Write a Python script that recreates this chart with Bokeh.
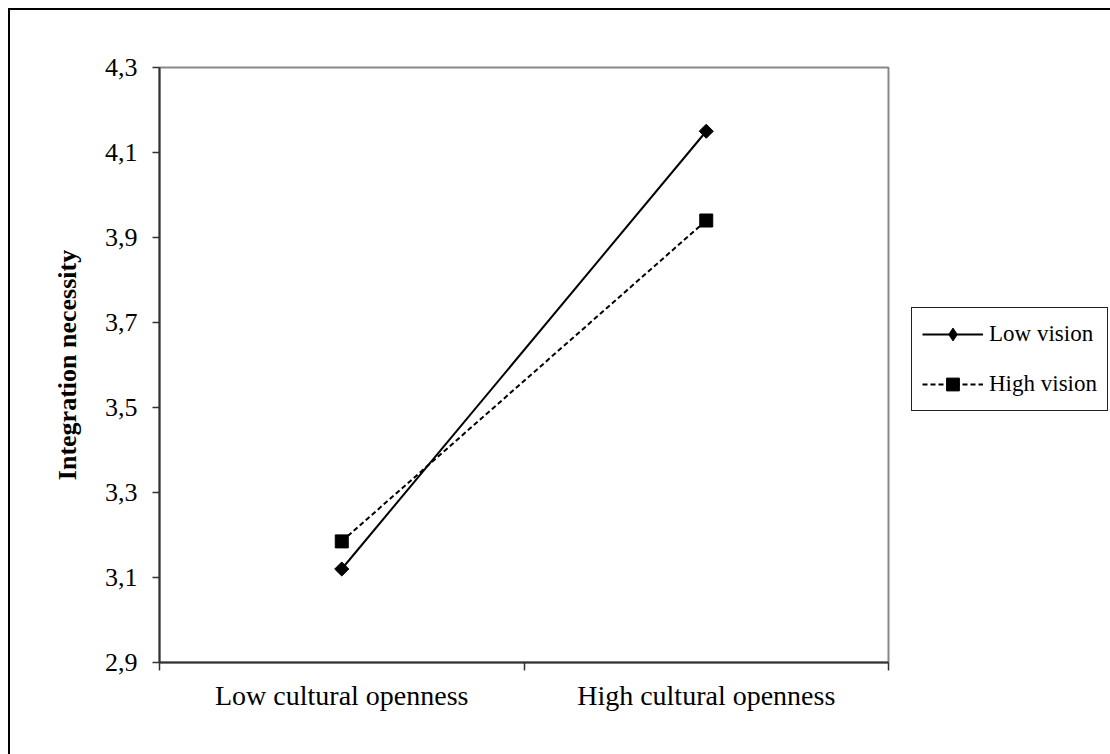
import numpy as np
from bokeh.plotting import figure
from bokeh.models import Range1d, FixedTicker, Legend, LegendItem
from bokeh.embed import file_html
from bokeh.resources import INLINE

# ---- data ----
categories = ["Low cultural openness", "High cultural openness"]
series_names = ["Low vision", "High vision"]
low_vision = [3.12, 4.15]
high_vision = [3.185, 3.94]
y_ticks = [2.9, 3.1, 3.3, 3.5, 3.7, 3.9, 4.1, 4.3]
y_tick_labels = ["2,9", "3,1", "3,3", "3,5", "3,7", "3,9", "4,1", "4,3"]
y_title = "Integration necessity"

xpos = [i + 0.5 for i in range(len(categories))]
edges = [float(i) for i in range(len(categories) + 1)]

FONT = "Liberation Serif"

p = figure(frame_width=729, frame_height=595,
           x_range=Range1d(0, len(categories)), y_range=Range1d(y_ticks[0], y_ticks[-1]),
           output_backend="svg", toolbar_location=None,
           min_border_left=151, min_border_right=0,
           min_border_top=59, min_border_bottom=92)

p.border_fill_color = None
p.background_fill_color = "white"
p.styles = {"margin": "8px 0 0 8px", "box-shadow": "inset 2px 2px 0 0 #000000"}
p.grid.visible = False
p.outline_line_color = "#888888"
p.outline_line_width = 2

# lines + markers
r1 = p.line(xpos, low_vision, line_color="black", line_width=2)
# diamond glyph (used for the legend sample), covered by the rotated squares
m1_leg = p.scatter(xpos, low_vision, marker="diamond", size=12,
                   fill_color="black", line_color="black")
m1 = p.scatter(xpos, low_vision, marker="square", size=10, angle=np.pi / 4,
               fill_color="black", line_color="black")
r2 = p.line(xpos, high_vision, line_color="black", line_width=2, line_dash="5 3")
m2 = p.scatter(xpos, high_vision, marker="square", size=13,
               fill_color="black", line_color="black")

# x axis
xa = p.xaxis[0]
xa.ticker = FixedTicker(ticks=xpos, minor_ticks=edges)
xa.major_label_overrides = {x: c for x, c in zip(xpos, categories)}
xa.major_tick_out = 0
xa.major_tick_in = 0
xa.minor_tick_in = 0
xa.minor_tick_out = 8
xa.minor_tick_line_color = "#333333"
xa.minor_tick_line_width = 1.5
xa.axis_line_color = "#333333"
xa.axis_line_width = 2
xa.major_label_text_font = FONT
xa.major_label_text_font_size = "28px"
xa.major_label_text_color = "black"
xa.major_label_standoff = 9

# y axis
ya = p.yaxis[0]
ya.ticker = FixedTicker(ticks=y_ticks, minor_ticks=[])
ya.major_label_overrides = {t: l for t, l in zip(y_ticks, y_tick_labels)}
ya.major_tick_out = 7
ya.major_tick_in = 0
ya.major_tick_line_color = "#333333"
ya.major_tick_line_width = 1.5
ya.axis_line_color = "#333333"
ya.axis_line_width = 2
ya.major_label_text_font = FONT
ya.major_label_text_font_size = "26px"
ya.major_label_text_color = "black"
ya.major_label_standoff = 15
ya.axis_label = y_title
ya.axis_label_text_font = FONT
ya.axis_label_text_font_size = "26px"
ya.axis_label_text_font_style = "bold"
ya.axis_label_text_color = "black"
ya.axis_label_standoff = 20

legend = Legend(items=[LegendItem(label=series_names[0], renderers=[r1, m1_leg]),
                       LegendItem(label=series_names[1], renderers=[r2, m2])],
                location=(23, 251), orientation="vertical")
legend.label_text_font = FONT
legend.label_text_font_size = "23px"
legend.label_text_color = "black"
legend.border_line_color = "#222222"
legend.border_line_alpha = 1.0
legend.border_line_width = 1.5
legend.padding = 10
legend.spacing = 18
legend.margin = 0
legend.glyph_width = 61
legend.glyph_height = 32
legend.label_height = 32
legend.label_standoff = 6
legend.background_fill_alpha = 1
p.add_layout(legend, "right")

open("out.html", "w").write(file_html(p, INLINE))
